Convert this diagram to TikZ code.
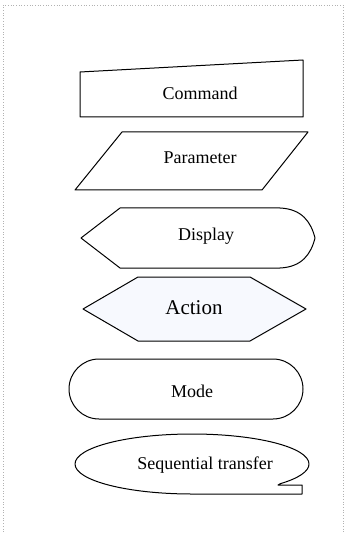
\documentclass[tikz,border=0pt]{standalone}
\usepackage{fontspec}
\setmainfont{Liberation Serif}
\usepackage{xcolor}
\usepackage{tikz}
\usetikzlibrary{positioning}

\definecolor{actfill}{RGB}{247,249,254}

\begin{document}
\begin{tikzpicture}[
  x=1pt, y=-1pt,
  symb/.style={draw, line width=1pt, line join=round},
  lbl/.style={inner sep=0pt, font=\fontsize{18}{20}\selectfont},
  frame/.style={draw=gray!60, dotted, line width=0.7pt}
]
\useasboundingbox (0,0) rectangle (344,534);
\draw[frame] (3,540) -- (3,5) -- (343,5) -- (343,540);
% command
\draw[symb] (80,72) -- (303,60) -- (303,117) -- (80,117) -- cycle;
\node[lbl] (cmd) at (200,93) {Command};
% parameter
\draw[symb] (122,132) -- (308,132) -- (262,190) -- (75,190) -- cycle;
\node[lbl] (par) at (200,158) {Parameter};
% display
\draw[symb] (81,238) -- (120,208) -- (280,208)
  .. controls (302,209) and (311,222) .. (315,238)
  .. controls (311,254) and (302,267) .. (280,268) -- (120,268) -- cycle;
\node[lbl] (disp) at (206,236) {Display};
% action
\draw[symb, fill=actfill] (83,309) -- (138,277) -- (250,277) -- (306,309)
  -- (250,341) -- (138,341) -- cycle;
\node[lbl, font=\fontsize{21}{24}\selectfont] (act) at (194,308) {Action};
% mode
\draw[symb, rounded corners=30pt] (69,359) rectangle (303,419);
\node[lbl] (mode) at (192,391) {Mode};
% sequential transfer
\draw[symb] (302,494) -- (192,494)
  arc[start angle=90, end angle=401, x radius=117, y radius=30]
  -- (278,485) -- (302,485) -- cycle;
\node[lbl] (seq) at (205,465) {Sequential transfer};
\end{tikzpicture}
\end{document}
